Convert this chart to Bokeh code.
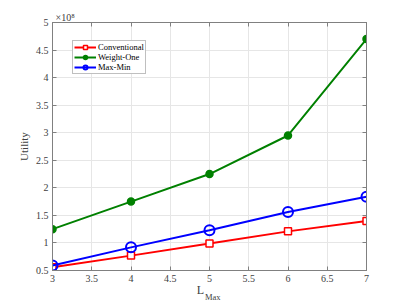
from bokeh.plotting import figure
from bokeh.models import (Range1d, LinearAxis, FixedTicker, Legend, LegendItem,
                          CustomJSTickFormatter, Grid, Title)
from bokeh.embed import file_html
from bokeh.resources import INLINE

# data (utility in units of 1e8)
l_max = [3, 4, 5, 6, 7]
conventional = [0.56, 0.77, 0.99, 1.21, 1.40]
weight_one = [1.25, 1.75, 2.25, 2.95, 4.70]
max_min = [0.59, 0.92, 1.23, 1.56, 1.84]
x_ticks = [3, 3.5, 4, 4.5, 5, 5.5, 6, 6.5, 7]
y_ticks = [0.5, 1, 1.5, 2, 2.5, 3, 3.5, 4, 4.5, 5]

FONT = "Liberation Serif"
AX = "#808080"
TXT = "#404040"
NB = "\u00a0"

p = figure(width=405, height=304, output_backend="svg", toolbar_location=None,
           x_range=Range1d(3, 7), y_range=Range1d(0.5, 5),
           x_axis_type=None, y_axis_type=None,
           min_border_left=52, min_border_right=39, min_border_top=22, min_border_bottom=34)
p.background_fill_color = "white"
p.outline_line_color = AX
p.outline_line_width = 1

fmt = CustomJSTickFormatter(code="return String(tick);")

def mk_axis(side, ticks, labels=True):
    ax = LinearAxis(ticker=FixedTicker(ticks=ticks))
    ax.formatter = fmt
    ax.axis_line_color = AX
    ax.major_tick_line_color = AX
    ax.major_tick_in = 4
    ax.major_tick_out = 0
    ax.minor_tick_line_color = None
    ax.major_label_text_font = FONT
    ax.major_label_text_font_size = "10px"
    ax.major_label_text_color = TXT
    ax.major_label_standoff = 4
    ax.axis_label_text_font = FONT
    ax.axis_label_text_font_style = "normal"
    ax.axis_label_text_color = TXT
    if not labels:
        ax.major_label_text_font_size = "0px"
        ax.major_label_text_alpha = 0
        ax.major_label_standoff = 0
    p.add_layout(ax, side)
    return ax

xb = mk_axis("below", x_ticks)
xb.axis_label = "L" + NB * 6
xb.axis_label_text_font_size = "12px"
xb.axis_label_standoff = -2

# subscript "Max" drawn as the label of a bare second bottom axis
xs = LinearAxis(ticker=FixedTicker(ticks=[]))
xs.axis_line_color = None
xs.major_tick_line_color = None
xs.minor_tick_line_color = None
xs.major_label_text_font_size = "0px"
xs.major_label_standoff = 0
xs.axis_label = NB * 3 + "Max"
xs.axis_label_text_font = FONT
xs.axis_label_text_font_style = "normal"
xs.axis_label_text_font_size = "8.5px"
xs.axis_label_text_color = TXT
xs.axis_label_standoff = -8
p.add_layout(xs, "below")

yl = mk_axis("left", y_ticks)
yl.axis_label = "Utility"
yl.axis_label_text_font_size = "11px"
yl.axis_label_standoff = 3
mk_axis("above", x_ticks, labels=False)
mk_axis("right", y_ticks, labels=False)

p.add_layout(Grid(dimension=0, ticker=xb.ticker, grid_line_color="#e6e6e6", grid_line_width=1))
p.add_layout(Grid(dimension=1, ticker=yl.ticker, grid_line_color="#e6e6e6", grid_line_width=1))

r1 = p.line(l_max, conventional, line_color="red", line_width=2)
m1 = p.scatter(l_max, conventional, marker="square", size=7, line_color="red",
               fill_color="white", line_width=1.5)
r2 = p.line(l_max, weight_one, line_color="#008000", line_width=2)
m2 = p.scatter(l_max, weight_one, marker="circle", size=7, line_color="#008000",
               fill_color="#008000", line_width=1.5)
r3 = p.line(l_max, max_min, line_color="blue", line_width=2)
m3 = p.scatter(l_max, max_min, marker="circle", size=10, line_color="blue",
               fill_color=None, line_width=2)

legend = Legend(items=[
    LegendItem(label="Conventional", renderers=[r1, m1]),
    LegendItem(label="Weight-One", renderers=[r2, m2]),
    LegendItem(label="Max-Min", renderers=[r3, m3]),
], location=(20, 196))
legend.label_text_font = FONT
legend.label_text_font_size = "8.5px"
legend.label_text_color = "black"
legend.glyph_height = 10
legend.glyph_width = 22
legend.label_height = 10
legend.spacing = 0
legend.padding = 1
legend.margin = 0
legend.label_standoff = 2
legend.border_line_color = AX
legend.border_line_width = 1
legend.background_fill_color = "white"
p.add_layout(legend)

# exponent
exp_title = Title(text="\u00d710\u2078", text_font=FONT, text_font_size="10px",
                  text_color=TXT, text_font_style="normal", align="left", offset=3,
                  standoff=0)
p.add_layout(exp_title, "above")

open("out.html", "w").write(file_html(p, INLINE))
